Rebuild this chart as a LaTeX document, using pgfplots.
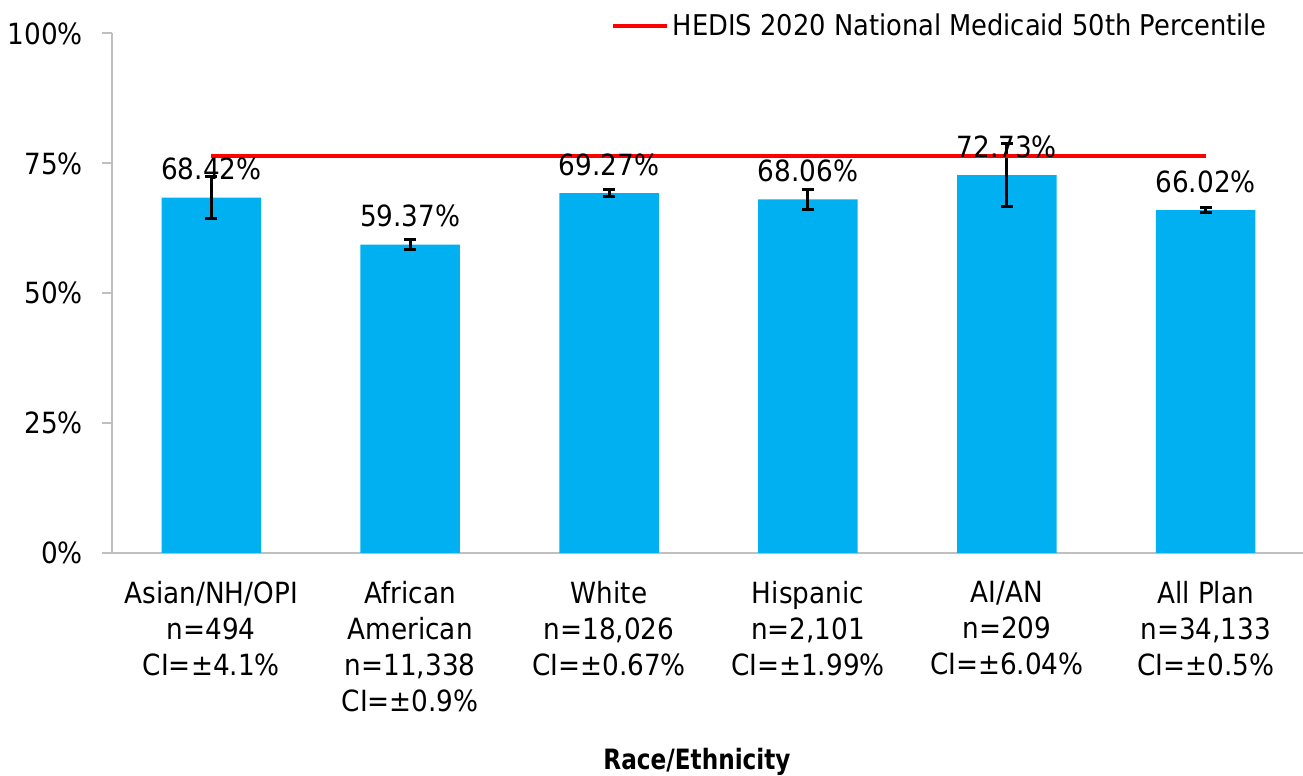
\documentclass[border=0pt]{standalone}
\usepackage{fontspec}
\setmainfont{DejaVu Sans Condensed}
\usepackage{pgfplots}
\pgfplotsset{compat=1.18}
\definecolor{barblue}{HTML}{00B0F0}
\definecolor{axgray}{HTML}{BFBFBF}
\newcommand{\lf}{\fontsize{14.6}{18}\selectfont}
\begin{document}
\lf
\begin{tikzpicture}[x=1pt,y=1pt]
\useasboundingbox (0,0) rectangle (651.5,388);
\begin{axis}[
  at={(55.95pt,111.5pt)}, anchor=south west,
  scale only axis, width=596.6pt, height=259.75pt,
  xmin=-0.5, xmax=5.5, ymin=0, ymax=100,
  axis lines*=left,
  axis line style={axgray, line width=1pt},
  /pgf/number format/assume math mode=true,
  ytick={0,25,50,75,100},
  yticklabels={0\%,25\%,50\%,75\%,100\%},
  ytick style={axgray, line width=1pt},
  tick align=outside, major tick length=5pt,
  xtick={0,1,2,3,4,5},
  xtick style={draw=none},
  xticklabels={{Asian/NH/OPI\\n=494\\CI=±4.1\%},{African\\American\\n=11,338\\CI=±0.9\%},{White\\n=18,026\\CI=±0.67\%},{Hispanic\\n=2,101\\CI=±1.99\%},{AI/AN\\n=209\\CI=±6.04\%},{All Plan\\n=34,133\\CI=±0.5\%}},
  xticklabel style={align=center, font=\lf, yshift=-4pt},
  yticklabel style={font=\lf, xshift=-4.5pt},
  legend style={at={(axis description cs:0.9765,1.0138)}, anchor=east, draw=none, fill=none, font=\fontsize{14.3}{18}\selectfont, /tikz/every even column/.style={column sep=0pt}},
  legend image code/.code={\draw[#1] (0pt,0pt) -- (27pt,0pt);},
  clip=false,
]
\addplot[ybar, bar width=0.5, fill=barblue, draw=none, forget plot,
  nodes near coords={\pgfmathprintnumber[fixed,precision=2,fixed zerofill]{\pgfplotspointmeta}\%},
  nodes near coords style={anchor=south, font=\lf, black, yshift=3.6pt},
  point meta=y,
  error bars/.cd, y dir=both, y explicit,
  error mark=-,
  error bar style={black, line width=1.5pt},
  error mark options={black, line width=1.5pt, mark size=3pt, rotate=90}
] table[x=x, y=y, y error=e] {
x y e
0 68.42 4.1
1 59.37 0.9
2 69.27 0.67
3 68.06 1.99
4 72.73 6.04
5 66.02 0.5
};
\addplot[red, line width=2pt] coordinates {(0,76.4) (5,76.4)};
\addlegendentry[xshift=-1pt]{HEDIS 2020 National Medicaid 50th Percentile}
\end{axis}
\node[font=\bfseries\fontsize{14}{18}\selectfont] at (348.5,7) {\scalebox{0.92}[1]{Race/Ethnicity}};
\end{tikzpicture}
\end{document}
